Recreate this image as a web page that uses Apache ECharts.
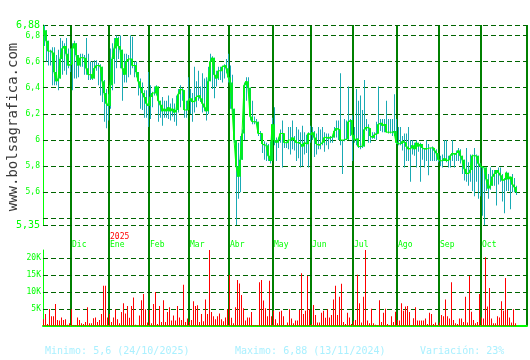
<!DOCTYPE html>
<html><head><meta charset="utf-8">
<script src="https://cdn.jsdelivr.net/npm/echarts@6/dist/echarts.min.js"></script>
<style>html,body{margin:0;padding:0;background:#fff}#c{width:530px;height:360px}</style>
</head><body><div id="c"></div>
<script>
// ---- tick labels / axis data ----
const monthNames = ['Dic','Ene','Feb','Mar','Abr','May','Jun','Jul','Ago','Sep','Oct'];
const monthStarts = [14,33,53,73,93,115,134,155,177,198,219];
const yearLabel = '2025';
const yearStart = 33;
const slotCount = 242;
const priceMin = 5.35, priceMax = 6.88;
const priceLines = [5.35,5.4,5.6,5.8,6,6.2,6.4,6.6,6.8,6.88];
const priceLabels = [5.35,5.6,5.8,6,6.2,6.4,6.6,6.8,6.88];
const bigLabels = [5.35,6.88];
const volMax = 22.35;
const volLines = [5,10,15,20];
const minText = 'Minimo: 5,6 (24/10/2025)';
const maxText = 'Maximo: 6,88 (13/11/2024)';
const varText = 'Variación: 23%';
const watermark = 'www.bolsagrafica.com';

// ---- series values (one per trading day, 13/11/2024 .. 24/10/2025) ----
const closes = [
 6.84,6.76,6.68,6.68,6.67,6.52,6.45,6.47,6.62,6.70,6.72,6.66,6.57,6.58,
 6.70,6.74,6.65,6.57,6.63,6.63,6.63,6.55,6.50,6.50,6.47,6.55,6.57,6.57,6.56,6.45,6.36,6.28,6.26,
 6.42,6.62,6.70,6.78,6.72,6.69,6.55,6.50,6.60,6.62,6.62,6.57,6.57,6.52,6.45,6.40,6.36,6.33,6.28,6.26,
 6.33,6.36,6.36,6.41,6.30,6.27,6.22,6.24,6.22,6.25,6.22,6.24,6.21,6.23,6.35,6.39,6.38,6.23,6.23,6.30,
 6.32,6.29,6.30,6.33,6.34,6.32,6.28,6.25,6.22,6.45,6.60,6.63,6.50,6.47,6.53,6.53,6.56,6.57,6.55,6.48,
 6.44,6.24,6.00,5.80,5.72,5.85,6.05,6.42,6.45,6.40,6.18,6.14,6.14,6.14,6.05,6.05,5.97,5.96,5.96,5.88,5.84,6.12,
 6.00,5.98,6.00,6.05,6.05,5.98,5.98,6.00,6.00,6.02,6.00,5.98,5.98,5.97,5.95,5.98,5.97,6.05,6.04,
 6.06,6.02,5.97,5.96,5.97,5.98,6.02,6.02,6.01,6.02,6.02,6.07,6.09,6.08,6.00,6.00,6.00,6.01,6.14,6.15,6.04,
 6.00,6.01,5.95,5.95,5.95,6.08,6.10,6.09,6.03,6.02,6.04,6.05,6.12,6.13,6.11,6.12,6.06,6.06,6.06,6.06,6.07,5.98,
 5.97,5.97,5.99,5.98,5.95,5.93,5.94,5.96,5.93,5.98,5.95,5.97,5.94,5.93,5.94,5.94,5.94,5.94,5.92,5.90,5.85,
 5.84,5.84,5.86,5.84,5.85,5.88,5.90,5.89,5.90,5.92,5.88,5.85,5.78,5.74,5.75,5.77,5.88,5.88,5.88,5.82,5.80,
 5.79,5.79,5.70,5.63,5.65,5.72,5.74,5.77,5.75,5.73,5.69,5.70,5.75,5.70,5.72,5.66,5.64,5.60
];
const opens = [
 6.80,6.84,6.76,6.68,6.68,6.67,6.52,6.45,6.47,6.62,6.70,6.72,6.66,6.57,
 6.58,6.70,6.74,6.65,6.57,6.63,6.63,6.63,6.55,6.50,6.50,6.47,6.55,6.57,6.57,6.56,6.45,6.36,6.28,
 6.26,6.42,6.62,6.70,6.78,6.72,6.69,6.55,6.50,6.60,6.62,6.62,6.57,6.57,6.52,6.45,6.40,6.36,6.33,6.28,
 6.26,6.33,6.36,6.36,6.41,6.30,6.27,6.22,6.24,6.22,6.25,6.22,6.24,6.21,6.23,6.35,6.39,6.38,6.23,6.23,
 6.30,6.32,6.29,6.30,6.33,6.34,6.32,6.28,6.25,6.22,6.45,6.60,6.63,6.50,6.47,6.53,6.53,6.56,6.57,6.55,
 6.48,6.44,6.24,6.00,5.80,5.72,5.85,6.05,6.42,6.45,6.40,6.18,6.14,6.14,6.14,6.05,6.05,5.97,5.96,5.96,5.88,5.84,
 6.12,6.00,5.98,6.00,6.05,6.05,5.98,5.98,6.00,6.00,6.02,6.00,5.98,5.98,5.97,5.95,5.98,5.97,6.05,
 6.04,6.06,6.02,5.97,5.96,5.97,5.98,6.02,6.02,6.01,6.02,6.02,6.07,6.09,6.08,6.00,6.00,6.00,6.01,6.14,6.15,
 6.04,6.00,6.01,5.95,5.95,5.95,6.08,6.10,6.09,6.03,6.02,6.04,6.05,6.12,6.13,6.11,6.12,6.06,6.06,6.06,6.06,6.07,
 5.98,5.97,5.97,5.99,5.98,5.95,5.93,5.94,5.96,5.93,5.98,5.95,5.97,5.94,5.93,5.94,5.94,5.94,5.94,5.92,5.90,
 5.85,5.84,5.84,5.86,5.84,5.85,5.88,5.90,5.89,5.90,5.92,5.88,5.85,5.78,5.74,5.75,5.77,5.88,5.88,5.88,5.82,
 5.80,5.79,5.79,5.70,5.63,5.65,5.72,5.74,5.77,5.75,5.73,5.69,5.70,5.75,5.70,5.72,5.66,5.64
];
const highs = [
 6.88,6.84,6.76,6.69,6.71,6.71,6.65,6.69,6.78,6.76,6.74,6.78,6.70,6.70,
 6.74,6.76,6.74,6.65,6.66,6.66,6.65,6.78,6.66,6.60,6.60,6.61,6.61,6.59,6.58,6.56,6.46,6.39,6.35,
 6.70,6.74,6.78,6.80,6.79,6.80,6.69,6.66,6.66,6.65,6.80,6.79,6.60,6.60,6.52,6.47,6.44,6.38,6.38,6.52,
 6.42,6.37,6.41,6.42,6.41,6.30,6.33,6.30,6.30,6.34,6.28,6.32,6.28,6.34,6.39,6.42,6.40,6.38,6.30,6.48,
 6.39,6.36,6.56,6.45,6.53,6.41,6.51,6.47,6.48,6.56,6.66,6.64,6.63,6.53,6.56,6.56,6.57,6.58,6.62,6.66,
 6.57,6.50,6.24,6.00,5.98,6.03,6.08,6.44,6.48,6.48,6.40,6.30,6.18,6.16,6.14,6.07,6.05,5.99,5.98,5.97,5.99,6.17,
 6.25,6.02,6.02,6.08,6.15,6.05,5.99,6.10,6.10,6.15,6.03,6.10,6.08,6.06,6.11,6.06,6.04,6.06,6.11,
 6.10,6.07,6.05,6.10,6.08,6.10,6.06,6.05,6.05,6.03,6.03,6.10,6.15,6.15,6.51,6.00,6.16,6.15,6.41,6.16,6.19,
 6.10,6.39,6.30,6.34,6.23,6.46,6.16,6.12,6.09,6.06,6.06,6.14,6.41,6.16,6.16,6.16,6.30,6.16,6.16,6.16,6.35,6.16,
 6.10,6.10,6.03,6.05,6.05,6.10,6.00,6.00,5.98,6.00,5.98,5.98,5.97,5.94,6.00,5.97,5.94,5.95,5.94,5.93,5.90,
 5.88,5.89,6.00,6.00,5.88,5.89,6.00,5.90,5.92,5.94,5.93,5.88,5.85,5.94,5.83,5.89,5.89,5.94,5.89,5.88,5.82,
 5.80,5.79,5.79,5.74,5.79,5.77,5.77,5.77,5.79,5.79,5.74,5.71,5.76,5.75,5.72,5.74,5.71,5.65
];
const lows = [
 6.72,6.60,6.57,6.57,6.42,6.42,6.42,6.38,6.47,6.50,6.53,6.50,6.55,6.52,
 6.38,6.47,6.47,6.48,6.56,6.56,6.50,6.50,6.46,6.46,6.46,6.47,6.53,6.42,6.34,6.29,6.14,6.09,6.15,
 6.24,6.38,6.43,6.55,6.62,6.55,6.30,6.44,6.44,6.48,6.50,6.55,6.48,6.48,6.34,6.24,6.23,6.17,6.17,6.10,
 6.16,6.25,6.34,6.34,6.14,6.17,6.11,6.17,6.17,6.16,6.15,6.18,6.14,6.11,6.21,6.25,6.30,6.17,6.17,6.23,
 6.20,6.14,6.21,6.25,6.30,6.29,6.21,6.22,6.15,6.20,6.45,6.39,6.32,6.41,6.46,6.46,6.44,6.47,6.51,6.44,
 6.24,6.20,5.98,5.35,5.55,5.60,5.85,6.00,6.30,6.35,6.15,6.12,6.12,6.12,6.03,6.00,5.90,5.85,5.84,5.84,5.82,5.84,
 5.96,5.84,5.94,5.98,5.79,5.94,5.94,5.93,5.89,5.93,5.92,5.84,5.86,5.79,5.80,5.89,5.90,5.79,5.98,
 6.00,5.87,5.89,5.93,5.93,5.96,5.91,5.96,5.93,5.98,5.98,6.02,6.02,6.00,5.96,5.74,5.99,6.00,6.00,6.03,5.84,
 5.98,5.96,5.94,5.93,5.94,5.95,6.07,5.98,5.98,6.01,6.01,6.00,6.05,6.07,6.06,6.06,6.06,6.05,6.05,6.03,6.03,5.97,
 5.96,5.96,5.92,5.79,5.84,5.84,5.68,5.89,5.88,5.79,5.91,5.68,5.85,5.79,5.84,5.73,5.84,5.84,5.84,5.84,5.83,
 5.80,5.79,5.84,5.83,5.79,5.79,5.84,5.79,5.84,5.84,5.82,5.74,5.69,5.68,5.65,5.68,5.61,5.57,5.68,5.55,5.57,
 5.42,5.35,5.61,5.55,5.62,5.65,5.65,5.50,5.66,5.68,5.53,5.44,5.61,5.61,5.47,5.60,5.60,5.58
];
// volume in thousands of shares
const volumes = [
 2.0,3.5,0.6,5.0,2.9,2.9,6.5,1.8,1.6,2.5,1.8,2.0,0.4,0.8,
 4.9,0.3,0.3,2.5,1.8,0.8,0.6,1.2,5.5,0.8,0.8,2.3,2.5,1.2,1.8,3.5,11.8,11.8,2.5,
 3.5,1.2,2.5,4.9,2.0,0.8,4.1,6.7,3.7,5.9,2.4,5.9,8.4,0.4,0.2,3.1,7.6,9.4,4.9,1.0,
 4.7,0.8,6.5,10.0,0.6,5.9,1.2,7.6,1.2,4.1,5.5,1.6,3.1,1.6,5.9,2.5,1.8,12.1,1.2,2.2,
 1.2,1.8,7.3,5.9,6.1,1.2,3.5,1.4,7.8,3.5,22.4,4.1,2.9,2.0,2.9,3.7,2.0,1.4,2.5,4.9,
 15.0,2.4,0.8,5.5,13.5,12.5,9.1,5.2,1.6,2.5,2.5,4.1,0.3,0.3,0.3,12.9,13.5,7.5,5.2,2.9,13.3,2.9,
 4.5,2.0,0.8,4.2,4.5,2.9,0.3,1.0,4.9,2.2,0.8,1.6,1.6,4.7,15.5,3.5,4.5,14.7,4.9,
 0.6,6.2,3.2,1.0,1.0,3.9,4.5,2.4,4.9,2.5,3.2,7.8,11.8,3.2,8.6,12.4,1.2,0.6,3.9,2.5,0.6,
 1.4,1.8,15.1,6.7,1.0,8.6,22.4,1.6,0.8,5.1,0.8,0.4,0.3,7.6,1.2,3.9,5.1,0.6,0.3,2.9,1.2,4.2,
 1.8,1.6,6.7,4.5,5.7,5.9,4.1,0.3,2.3,5.5,1.6,1.6,1.6,1.6,2.2,0.6,3.9,3.5,0.6,1.0,0.3,
 1.0,3.2,2.9,7.8,2.9,2.2,12.9,1.8,0.8,0.6,2.2,2.2,1.2,8.6,1.0,14.7,4.2,1.8,0.8,1.2,9.4,
 2.5,2.2,20.2,5.7,11.2,2.2,0.8,0.8,2.9,2.5,7.3,4.5,14.1,4.7,2.5,1.0,4.9,0.8
];

// ---- styles ----
const MONO = '"DejaVu Sans Mono", "Liberation Mono", monospace';
const BRIGHT = '#00ff00';
const GRIDDASH = '#006400';
const MONTHLINE = '#008000';
const TEAL = '#19aab4';
const BODY = '#00e62e';
const RED = '#ff0000';

const slots = Array.from({length: slotCount}, (_, i) => String(i));
const isMonthStart = (idx) => monthStarts.indexOf(idx) >= 0;
const fmtComma = (v) => String(v).replace('.', ',');

const priceData = closes.map((c, i) => [i, opens[i], c, lows[i], highs[i]]);
const volData = volumes.map((v, i) => [i, v]);

const chart = echarts.init(document.getElementById('c'), null, {renderer: 'canvas'});
chart.setOption({
  animation: false,
  backgroundColor: '#ffffff',
  color: [TEAL, BRIGHT, RED, RED],
  grid: [
    {left: 43, top: 25, width: slotCount * 2, height: 200},
    {left: 43, top: 250, width: slotCount * 2, height: 76}
  ],
  xAxis: [
    {
      type: 'category', gridIndex: 0, data: slots, boundaryGap: true,
      axisLine: {show: false},
      axisTick: {show: true, interval: (i) => isMonthStart(i), length: 25, inside: false,
                 lineStyle: {color: MONTHLINE, width: 2}},
      splitLine: {show: true, interval: (i) => isMonthStart(i), lineStyle: {color: MONTHLINE, width: 2}},
      axisLabel: {show: true, interval: (i) => isMonthStart(i),
                  formatter: (v) => monthNames[monthStarts.indexOf(Number(v))] || '',
                  color: BRIGHT, fontFamily: MONO, fontSize: 8, align: 'left', margin: 16}
    },
    {
      type: 'category', gridIndex: 0, data: slots, boundaryGap: true, position: 'bottom',
      axisLine: {show: false}, axisTick: {show: false}, splitLine: {show: false},
      axisLabel: {show: true, interval: (i) => i === yearStart,
                  formatter: () => yearLabel,
                  color: RED, fontFamily: MONO, fontSize: 8, align: 'left', margin: 8}
    },
    {
      type: 'category', gridIndex: 1, data: slots, boundaryGap: true,
      axisLine: {show: true, lineStyle: {color: BRIGHT, width: 2}},
      axisTick: {show: false}, axisLabel: {show: false},
      splitLine: {show: true, interval: (i) => isMonthStart(i), lineStyle: {color: MONTHLINE, width: 2}}
    }
  ],
  yAxis: [
    {
      type: 'value', gridIndex: 0, min: priceMin, max: priceMax, scale: true,
      axisLine: {show: true, lineStyle: {color: BRIGHT, width: 1}},
      axisTick: {show: false}, splitLine: {show: false},
      axisLabel: {
        show: true, customValues: priceLabels, margin: 3,
        formatter: (v) => (bigLabels.indexOf(v) >= 0 ? '{b|' + fmtComma(v) + '}' : '{s|' + fmtComma(v) + '}'),
        rich: {
          b: {fontSize: 10, color: BRIGHT, fontFamily: MONO},
          s: {fontSize: 8, color: BRIGHT, fontFamily: MONO}
        }
      }
    },
    {
      type: 'value', gridIndex: 1, min: 0, max: volMax,
      axisLine: {show: true, lineStyle: {color: BRIGHT, width: 1}},
      axisTick: {show: false}, splitLine: {show: false},
      axisLabel: {show: true, customValues: volLines, margin: 2,
                  formatter: (v) => v + 'K', color: BRIGHT, fontFamily: MONO, fontSize: 8}
    }
  ],
  series: [
    {
      type: 'custom', xAxisIndex: 0, yAxisIndex: 0, data: priceData, clip: true, z: 2,
      encode: {x: 0, y: [1, 2, 3, 4]},
      itemStyle: {color: TEAL},
      renderItem: (params, api) => {
        const i = api.value(0);
        const pO = api.coord([i, api.value(1)]);
        const pC = api.coord([i, api.value(2)]);
        const pL = api.coord([i, api.value(3)]);
        const pH = api.coord([i, api.value(4)]);
        const cx = Math.round(pH[0]);
        const top = Math.min(pO[1], pC[1]);
        const bot = Math.max(pO[1], pC[1]);
        return {type: 'group', children: [
          {type: 'rect', shape: {x: cx, y: pH[1], width: 1, height: pL[1] - pH[1]}, style: {fill: TEAL}},
          {type: 'rect', shape: {x: cx - 1, y: top, width: 2, height: bot - top}, style: {fill: BODY}}
        ]};
      },
      markLine: {
        silent: true, symbol: ['none', 'none'], z: 1, animation: false,
        label: {show: false}, emphasis: {disabled: true},
        lineStyle: {color: GRIDDASH, type: [5, 3], width: 1},
        data: priceLines.map((v) => ({yAxis: v}))
      }
    },
    {
      type: 'line', xAxisIndex: 0, yAxisIndex: 0, data: closes, step: 'end', z: 3,
      symbol: 'none', showSymbol: false, lineStyle: {color: BRIGHT, width: 1}, silent: true
    },
    {
      type: 'custom', xAxisIndex: 2, yAxisIndex: 1, data: volData, clip: true, z: 3,
      encode: {x: 0, y: 1},
      itemStyle: {color: RED},
      renderItem: (params, api) => {
        const i = api.value(0);
        const t = api.coord([i, api.value(1)]);
        const b = api.coord([i, 0]);
        const x = Math.round(t[0]) - 1;
        return {type: 'group', children: [
          {type: 'rect', shape: {x: x, y: t[1], width: 1, height: b[1] - t[1]}, style: {fill: RED}}
        ]};
      }
    },
    {
      type: 'line', xAxisIndex: 2, yAxisIndex: 1, data: [], silent: true, z: 1,
      markLine: {
        silent: true, symbol: ['none', 'none'], z: 1, animation: false,
        label: {show: false}, emphasis: {disabled: true},
        lineStyle: {color: GRIDDASH, type: [5, 3], width: 1},
        data: volLines.map((v) => ({yAxis: v}))
      }
    }
  ],
  graphic: [
    {type: 'text', x: 13, y: 127, rotation: Math.PI / 2,
     style: {text: watermark, fill: '#3a3a3a', font: '14px ' + MONO, align: 'center', verticalAlign: 'middle'}},
    {type: 'text', x: 45, y: 351,
     style: {text: minText, fill: '#aaf0ff', font: '10px ' + MONO, align: 'left', verticalAlign: 'middle'}},
    {type: 'text', x: 235, y: 351,
     style: {text: maxText, fill: '#aaf0ff', font: '10px ' + MONO, align: 'left', verticalAlign: 'middle'}},
    {type: 'text', x: 420, y: 351,
     style: {text: varText, fill: '#aaf0ff', font: '10px ' + MONO, align: 'left', verticalAlign: 'middle'}}
  ]
});
</script>
</body></html>
